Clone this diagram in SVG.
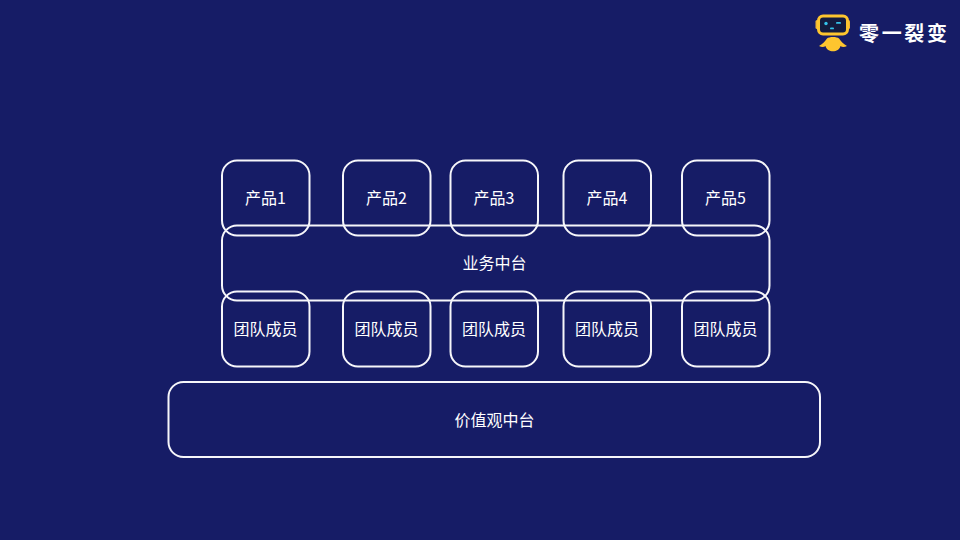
<svg xmlns="http://www.w3.org/2000/svg" width="960" height="540" viewBox="0 0 960 540">
<style>
.b{fill:none;stroke:#f6f6fa;stroke-width:2}
.t{font-family:"Noto Sans CJK SC","Liberation Sans",sans-serif;font-size:16px;font-weight:400;fill:#fff;text-anchor:middle}
.l{font-family:"Noto Sans CJK SC",sans-serif;font-size:20px;font-weight:700;fill:#fff;text-anchor:middle}
</style>
<rect width="960" height="540" fill="#161c66"/>
<g id="logo">
<rect x="815.500" y="20" width="3" height="9" rx="1.500" fill="#f2b632"/>
<rect x="847" y="20" width="3" height="9" rx="1.500" fill="#f2b632"/>
<rect x="818.500" y="16" width="29" height="18" rx="4.500" fill="#141b3e" stroke="#fdc52f" stroke-width="3"/>
<circle cx="826" cy="23.500" r="1.700" fill="#35c3ea"/>
<rect x="836" y="22" width="5" height="1.800" rx="0.900" fill="#35c3ea"/>
<rect x="830" y="27.500" width="4" height="1.800" rx="0.900" fill="#35c3ea"/>
<path d="M819 46 C823 44 825 41 827 38.500 C829 36.500 837 36.500 839 38.500 C841 41 843 44 847 46 C844 47.500 842 47 840.500 46 C839 53 827 53 825.500 46 C824 47 822 47.500 819 46Z" fill="#fdc52f"/>
<text class="l" x="903" y="41" textLength="88" lengthAdjust="spacing">零一裂变</text>
</g>
<g id="connectors"/>
<g id="p1"><rect class="b" x="222" y="160.500" width="87.500" height="75" rx="15"/><text class="t" x="265.500" y="204">产品1</text></g>
<g id="p2"><rect class="b" x="343" y="160.500" width="87.500" height="75" rx="15"/><text class="t" x="386.500" y="204">产品2</text></g>
<g id="p3"><rect class="b" x="450.500" y="160.500" width="87.500" height="75" rx="15"/><text class="t" x="494" y="204">产品3</text></g>
<g id="p4"><rect class="b" x="563.500" y="160.500" width="87.500" height="75" rx="15"/><text class="t" x="607" y="204">产品4</text></g>
<g id="p5"><rect class="b" x="682" y="160.500" width="87.500" height="75" rx="15"/><text class="t" x="725.500" y="204">产品5</text></g>
<g id="biz"><rect class="b" x="222" y="225.500" width="547.500" height="75" rx="15"/><text class="t" x="494.500" y="269">业务中台</text></g>
<g id="m1"><rect class="b" x="222" y="291.500" width="87.500" height="75" rx="15"/><text class="t" x="265.500" y="335">团队成员</text></g>
<g id="m2"><rect class="b" x="343" y="291.500" width="87.500" height="75" rx="15"/><text class="t" x="386.500" y="335">团队成员</text></g>
<g id="m3"><rect class="b" x="450.500" y="291.500" width="87.500" height="75" rx="15"/><text class="t" x="494" y="335">团队成员</text></g>
<g id="m4"><rect class="b" x="563.500" y="291.500" width="87.500" height="75" rx="15"/><text class="t" x="607" y="335">团队成员</text></g>
<g id="m5"><rect class="b" x="682" y="291.500" width="87.500" height="75" rx="15"/><text class="t" x="725.500" y="335">团队成员</text></g>
<g id="values"><rect class="b" x="168.500" y="382" width="651.500" height="75" rx="15"/><text class="t" x="494.500" y="426">价值观中台</text></g>
</svg>
